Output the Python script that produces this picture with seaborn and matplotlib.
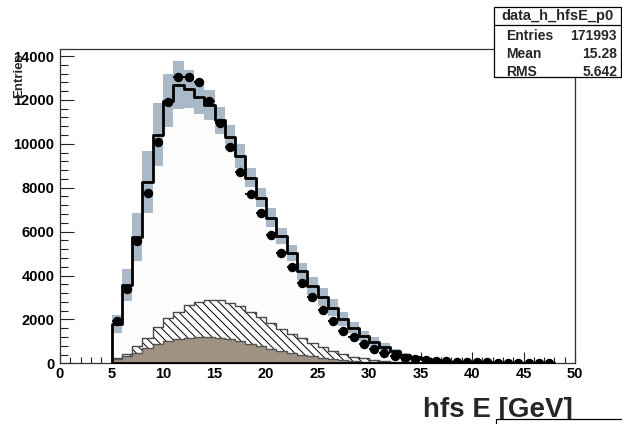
import numpy as np
import pandas as pd
import matplotlib
matplotlib.use("Agg")
import matplotlib.pyplot as plt
from matplotlib.patches import Rectangle
from matplotlib.ticker import MultipleLocator
import seaborn as sns

# ---------------- data ----------------
bin_lo = list(range(5, 48))          # lower bin edges (GeV), bin width 1
data_counts = [1950, 3400, 5560, 7780, 10060, 11920, 13030, 13030, 12800, 11930,
               10930, 9860, 8720, 7730, 6850, 5865, 5020, 4400, 3640, 3010,
               2440, 1950, 1480, 1200, 880, 640, 490, 350, 240, 180,
               140, 110, 85, 70, 55, 45, 38, 30, 25, 20, 16, 12, 10]
mc_total = [1784, 3580, 5770, 8260, 10410, 11970, 12690, 12500, 12150, 11770,
            11080, 10290, 9450, 8460, 7550, 6630, 5790, 5030, 4190, 3540,
            3010, 2540, 2030, 1620, 1260, 990, 760, 540, 390, 270,
            190, 130, 90, 60, 40, 28, 20, 14, 10, 7, 5, 3, 2]
mc_err = [410, 730, 1100, 1400, 1430, 1200, 1090, 870, 770, 690,
          610, 570, 530, 450, 430, 430, 370, 380, 400, 410,
          400, 380, 330, 250, 230, 190, 150, 110, 80, 60,
          45, 30, 20, 15, 10, 8, 6, 5, 4, 3, 2, 2, 1]
bkg_hatched = [260, 430, 770, 1170, 1640, 2050, 2320, 2660, 2810, 2880,
               2870, 2760, 2600, 2360, 2110, 1830, 1585, 1350, 1140, 915,
               730, 576, 425, 302, 229, 151, 110, 75, 50, 35,
               25, 15, 10, 6, 4, 3, 2, 1, 1, 0, 0, 0, 0]
bkg_brown = [190, 320, 490, 690, 880, 1030, 1100, 1170, 1210, 1215,
             1170, 1100, 1000, 900, 790, 670, 560, 450, 380, 320,
             260, 200, 150, 115, 75, 50, 35, 25, 15, 10,
             6, 4, 3, 2, 1, 1, 0, 0, 0, 0, 0, 0, 0]
x_ticks = [0, 5, 10, 15, 20, 25, 30, 35, 40, 45, 50]
y_ticks = [0, 2000, 4000, 6000, 8000, 10000, 12000, 14000]
stat_title = "data_h_hfsE_p0"
stat_rows = [("Entries", "171993"), ("Mean", "15.28"), ("RMS", "5.642")]

# ---------------- style ----------------
sns.set_style("ticks")
plt.rcParams['font.family'] = ['Liberation Sans', 'DejaVu Sans']
plt.rcParams['hatch.linewidth'] = 0.7

W, H = 622, 424
fig = plt.figure(figsize=(W / 100, H / 100), dpi=100)
ax_l, ax_r, ax_t, ax_b = 60, 575, 49, 363.3
ax = fig.add_axes([ax_l / W, (H - ax_b) / H, (ax_r - ax_l) / W, (ax_b - ax_t) / H])

lo = np.array(bin_lo, dtype=float)
centers = lo + 0.5
edges = [float(v) for v in bin_lo] + [float(bin_lo[-1] + 1)]
df = pd.DataFrame({
    "E": centers,
    "mc": np.array(mc_total, dtype=float),
    "hatched": np.array(bkg_hatched, dtype=float),
    "brown": np.array(bkg_brown, dtype=float),
})
mc = df["mc"].to_numpy()
err = np.array(mc_err, dtype=float)
clear = (1, 1, 1, 0)

# total MC fill (near-white)
sns.histplot(data=df, x="E", weights="mc", bins=edges, element="step", fill=True,
             color="#fcfcfc", alpha=1, linewidth=0, ax=ax, zorder=1)
# error band
ax.bar(centers, 2 * err, bottom=mc - err, width=1.0, color="#a9b9c7",
       linewidth=0, zorder=2)
# hatched background
sns.histplot(data=df, x="E", weights="hatched", bins=edges, element="step", fill=True,
             facecolor="white", edgecolor="black", hatch="\\\\\\\\", alpha=1,
             linewidth=0, ax=ax, zorder=3)
sns.histplot(data=df, x="E", weights="hatched", bins=edges, element="step", fill=True,
             color="#4a4a4a", facecolor=clear, edgecolor="#4a4a4a", linewidth=1.0,
             ax=ax, zorder=3.5)
# brown background
sns.histplot(data=df, x="E", weights="brown", bins=edges, element="step", fill=True,
             color="#a09283", alpha=1, linewidth=0, ax=ax, zorder=4)
sns.histplot(data=df, x="E", weights="brown", bins=edges, element="step", fill=True,
             color="#555555", facecolor=clear, edgecolor="#555555", linewidth=1.0,
             ax=ax, zorder=4.5)
# MC total outline (includes the vertical edges at the range ends)
sns.histplot(data=df, x="E", weights="mc", bins=edges, element="step", fill=True,
             color="black", facecolor=clear, edgecolor="black", linewidth=2.0,
             ax=ax, zorder=5)
# data points
dc = np.array(data_counts, dtype=float)
ax.errorbar(centers, dc, xerr=0.5, yerr=np.sqrt(dc), fmt="o", color="black",
            ms=5.8, elinewidth=1.3, capsize=0, zorder=6)

ax.set_xlim(0, 50)
ax.set_ylim(0, 14320)
ax.set_xlabel("")
ax.set_ylabel("")
ax.set_xticks(x_ticks)
ax.set_yticks(y_ticks)
ax.xaxis.set_minor_locator(MultipleLocator(1))
ax.yaxis.set_minor_locator(MultipleLocator(400))
ax.tick_params(axis="both", which="both", direction="in", top=False, right=False,
               colors="#222222", labelcolor="black")
ax.tick_params(axis="x", which="major", length=8, width=0.8, pad=3)
ax.tick_params(axis="x", which="minor", length=4, width=0.8)
ax.tick_params(axis="y", which="major", length=10, width=0.8, pad=4)
ax.tick_params(axis="y", which="minor", length=5.5, width=0.8)
for lab in ax.get_xticklabels() + ax.get_yticklabels():
    lab.set_fontsize(10.5)
    lab.set_fontweight("bold")
for s in ax.spines.values():
    s.set_linewidth(0.9)
    s.set_color("#333333")
    s.set_visible(True)
ax.set_facecolor("white")

# axis titles
fig.text(19 / W, 1 - 53 / H, "Entries", rotation=90, ha="center", va="top",
         fontsize=9.5, fontweight="bold")
fig.text(573 / W, (H - 417) / H, "hfs E [GeV]", ha="right", va="baseline",
         fontsize=20, fontweight="bold")

# stat box
bx0, bx1, by0, by1, bsep = 494, 621, 7, 77, 25
fig.patches.append(Rectangle((bx0 / W, 1 - by1 / H), (bx1 - bx0) / W, (by1 - by0) / H,
                             transform=fig.transFigure, facecolor="white",
                             edgecolor="black", linewidth=0.9, zorder=10))
fig.lines.append(plt.Line2D([bx0 / W, bx1 / W], [1 - bsep / H, 1 - bsep / H],
                            transform=fig.transFigure, color="black", lw=0.9, zorder=11))
fig.text((bx0 + bx1) / 2 / W, 1 - 16 / H, stat_title, ha="center", va="center",
         fontsize=10.5, fontweight="bold", zorder=12)
for i, (k, v) in enumerate(stat_rows):
    yy = 1 - (35.5 + 18 * i) / H
    fig.text(506 / W, yy, k, ha="left", va="center", fontsize=10,
             fontweight="bold", zorder=12)
    fig.text(617 / W, yy, v, ha="right", va="center", fontsize=10,
             fontweight="bold", zorder=12)

# cut-off legend box at bottom right
fig.patches.append(Rectangle((496 / W, -0.05), 0.3, (0.05 + (H - 419) / H),
                             transform=fig.transFigure, facecolor="white",
                             edgecolor="black", linewidth=0.9, zorder=10))

fig.savefig("out.png", dpi=100)
